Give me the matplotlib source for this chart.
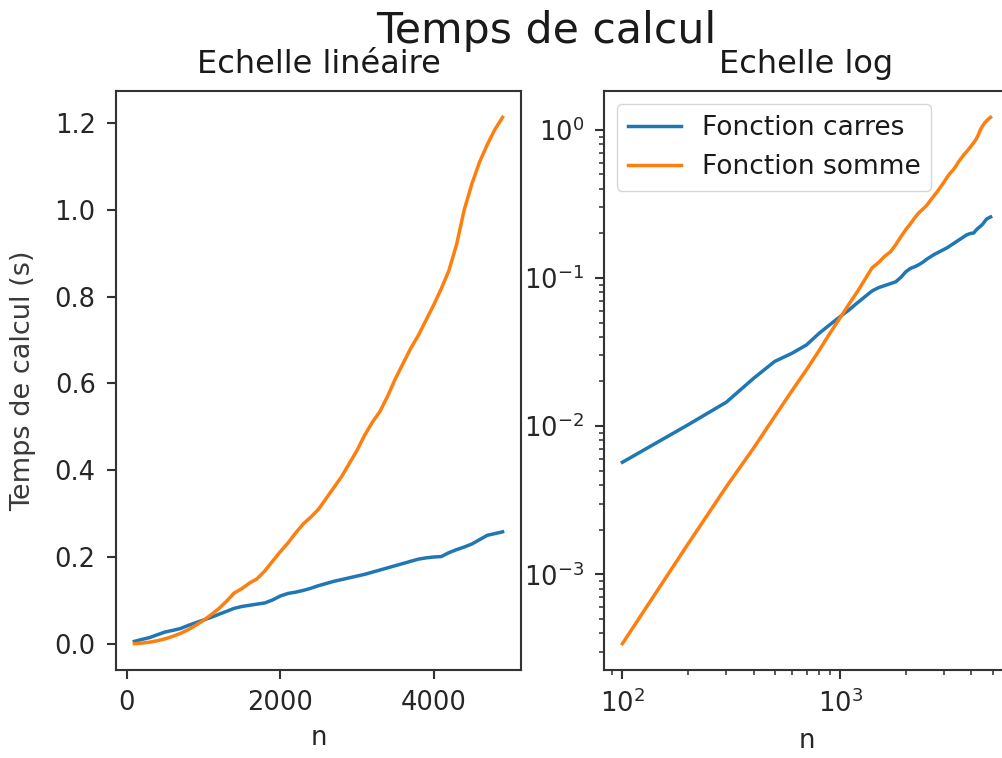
import matplotlib
matplotlib.use("Agg")
import matplotlib.pyplot as plt
import numpy as np

n_values = list(range(100, 5000, 100))
temps_carres = [0.0057, 0.0102, 0.0145, 0.021, 0.0273, 0.031, 0.0353, 0.0423, 0.0486, 0.0549,
                0.061, 0.068, 0.0748, 0.0817, 0.0860, 0.0888, 0.0915, 0.0942, 0.101, 0.110,
                0.116, 0.119, 0.123, 0.128, 0.134, 0.139, 0.144, 0.148, 0.152, 0.156,
                0.160, 0.165, 0.170, 0.175, 0.180, 0.185, 0.190, 0.195, 0.198, 0.200,
                0.201, 0.210, 0.217, 0.223, 0.230, 0.240, 0.250, 0.254, 0.258]
temps_somme = [0.00034, 0.0016, 0.0039, 0.0071, 0.0116, 0.0173, 0.024, 0.0324, 0.0427, 0.054,
               0.067, 0.081, 0.098, 0.117, 0.127, 0.140, 0.150, 0.168, 0.190, 0.212,
               0.232, 0.255, 0.276, 0.292, 0.310, 0.335, 0.360, 0.385, 0.415, 0.445,
               0.480, 0.510, 0.535, 0.570, 0.610, 0.645, 0.680, 0.710, 0.745, 0.780,
               0.818, 0.860, 0.920, 1.000, 1.060, 1.110, 1.150, 1.185, 1.213]
labels = ["Fonction carres", "Fonction somme"]
suptitle = "Temps de calcul"
titles = ["Echelle linéaire", "Echelle log"]
lin_xticks = [0, 2000, 4000]

s = 1.9
plt.rcParams.update({
    "font.size": 18.5,
    "axes.linewidth": 0.8 * s,
    "lines.linewidth": 2.5,
    "xtick.major.size": 3.5 * s, "ytick.major.size": 3.5 * s,
    "xtick.minor.size": 2 * s, "ytick.minor.size": 2 * s,
    "xtick.major.width": 0.8 * s, "ytick.major.width": 0.8 * s,
    "xtick.minor.width": 0.6 * s, "ytick.minor.width": 0.6 * s,
    "xtick.major.pad": 7.5, "ytick.major.pad": 8,
    "xtick.labelsize": 18.5, "ytick.labelsize": 18.5,
    "legend.fontsize": 19,
    "text.color": "#1a1a1a",
    "xtick.color": "#333333", "ytick.color": "#333333",
    "xtick.labelcolor": "#262626", "ytick.labelcolor": "#262626",
    "axes.edgecolor": "#333333",
    "axes.labelcolor": "#262626",
})

W, H = 1002, 758
fig = plt.figure(figsize=(W / 100, H / 100), dpi=100)

def px_axes(x0, x1, y0, y1):
    return fig.add_axes([x0 / W, 1 - y1 / H, (x1 - x0) / W, (y1 - y0) / H])

ax1 = px_axes(116, 521, 91, 670)
ax2 = px_axes(604, 1009, 91, 670)

ax1.plot(n_values, temps_carres, label=labels[0])
ax1.plot(n_values, temps_somme, label=labels[1])
ax1.set_xticks(lin_xticks)
ax1.set_title(titles[0], fontsize=23, pad=13)
ax1.set_xlabel("n", fontsize=18.5, labelpad=7)
ax1.set_ylabel("Temps de calcul (s)", fontsize=19.5, labelpad=13, color="#3a3a3a")

ax2.plot(n_values, temps_carres, label=labels[0])
ax2.plot(n_values, temps_somme, label=labels[1])
ax2.set_xscale("log")
ax2.set_yscale("log")
ax2.set_title(titles[1], fontsize=23, pad=13)
ax2.set_xlabel("n", fontsize=18.5, labelpad=7)
ax2.legend(loc="upper left")

fig.text(546 / W, 1 - 43 / H, suptitle, ha="center", va="baseline", fontsize=30.7)

fig.savefig("out.png", dpi=100)
